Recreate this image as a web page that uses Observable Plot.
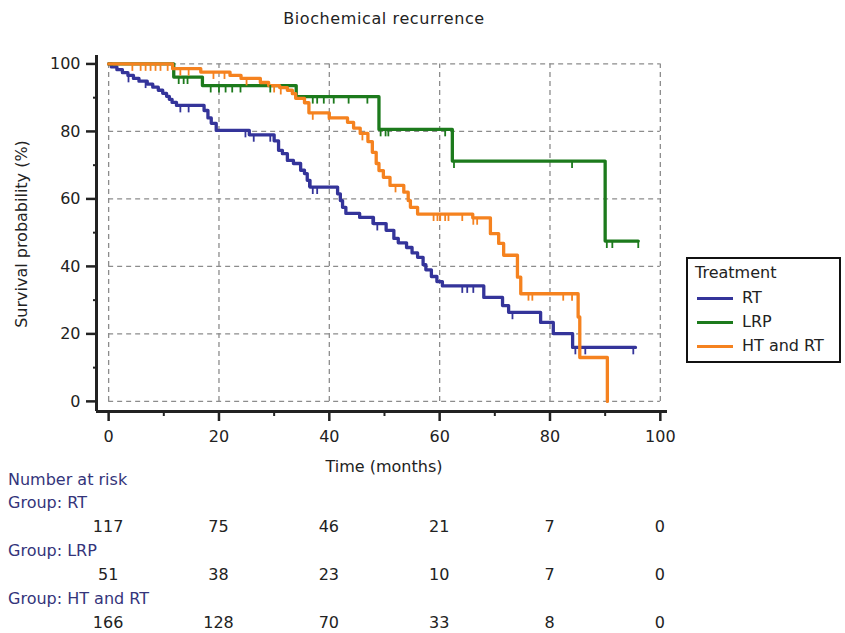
<!DOCTYPE html>
<html><head><meta charset="utf-8">
<script src="https://cdn.jsdelivr.net/npm/d3@7"></script>
<script src="https://cdn.jsdelivr.net/npm/@observablehq/plot@0.6"></script>
<style>
body{margin:0;background:#fff;font-family:"DejaVu Sans",sans-serif;}
#wrap{position:relative;width:845px;height:633px;overflow:hidden;background:#fff;}
.t{position:absolute;white-space:nowrap;font-size:16px;line-height:1;color:#222;}
#legend{position:absolute;left:686px;top:257px;width:155px;height:106px;border:2.5px solid #111;background:#fff;box-sizing:border-box;}
</style></head><body><div id="wrap"></div>
<script>
// ---- data ----
const groups = ["RT", "LRP", "HT and RT"];
const colors = ["#34349a", "#1c7a1c", "#f5821f"];

const rtTime = [0,0.5,1.5,2.5,3.5,4.5,5.5,7,8,9,9.8,10.5,11,11.5,12.3,17.3,18,18.6,19.5,25.5,30,30.8,31.5,32.4,33.5,34.8,35.5,36,36.5,41.5,42,42.4,43,45.5,48,50.3,51.7,52.5,54,55,56,57,57.5,58.5,59.5,60.5,68,71.4,72.5,78.3,80.6,84.1,95.5];
const rtSurv = [100,99.1,98.3,97.4,96.6,95.7,94.9,94,93.1,92.2,91.3,90.4,89.5,88.6,87.7,86.2,84,82.4,80.3,79,77.2,74.4,73.4,71.4,70.5,68.5,67.5,65.5,63.5,61.5,59.5,57.5,55.7,54.5,52.7,50.7,48.3,47,45.6,44,42.7,40.5,39,37,35.5,34.2,30.8,28.4,26.4,23.4,20.1,16,16];
const rtCensor = [3.6,6.7,13,14.5,24.8,26.3,29.3,36.3,37,37.8,47.8,48.7,64.1,65,66.1,73.2,84.6,86.4,95.1];

const lrpTime = [0,11.8,17,34,49,62.3,90,96];
const lrpSurv = [100,96.1,93.6,90.3,80.6,71.2,47.5,47.5];
const lrpCensor = [12.7,13.6,14.3,18.5,20,21.2,22.4,23.9,29.3,37,37.8,39,40.8,43.5,46.9,49.3,50.2,50.7,61,62.6,84,90.3,91.3,96];

const htTime = [0,11.6,16.7,22,24,27.5,29,31,32.4,33.3,33.9,35.5,36.3,40,43.3,44.4,45.6,47,47.8,48.5,49,49.8,51,53.5,54.3,54.7,56,66,69.2,70.7,71.6,74.1,74.7,85.1,85.4,90.4];
const htSurv = [100,98.6,97.6,96.6,95.7,94.5,93.6,93,92.2,91.2,89.8,88.5,85.5,84,82.7,81,79.4,77,73.8,70.5,68.4,66.4,64,62,59.5,57.5,55.5,54.4,49.7,46.8,43.3,36.8,31.9,25,13,0];
const htCensor = [4.3,5.8,6.7,7.6,8.5,9.4,10.7,13,14.5,19,21,25,30,31.2,37,39.9,46,52,58.9,59.6,60.1,61,61.6,64.1,66.1,66.8,76.1,76.8,82.4,84];

const xTicks = [0,20,40,60,80,100];
const xMinor = [10,30,50,70,90];
const yTicks = [0,20,40,60,80,100];
const yMinor = [10,30,50,70,90];

const riskTimes = [0,20,40,60,80,100];
const riskRT = [117,75,46,21,7,0];
const riskLRP = [51,38,23,10,7,0];
const riskHT = [166,128,70,33,8,0];

// ---- build tables ----
const series = [[rtTime, rtSurv, rtCensor],[lrpTime, lrpSurv, lrpCensor],[htTime, htSurv, htCensor]];
const rows = [], cens = [];
series.forEach(([T,S,C], i) => {
  T.forEach((t,j) => rows.push({group: groups[i], time: t, surv: S[j]}));
  C.forEach(c => {
    let k = 0; for (let j = 0; j < T.length; j++) if (T[j] <= c) k = j;
    cens.push({group: groups[i], time: c, surv: S[k]});
  });
});

const xDomain = [-2.2, 101.3];
const yDomain = [-3, 102.5];
const gridStyle = {stroke: "#8c8c8c", strokeDasharray: "5,4", strokeWidth: 1.3};

const chart = Plot.plot({
  width: 845, height: 480,
  marginLeft: 96, marginRight: 178, marginTop: 55, marginBottom: 69,
  style: {fontFamily: "DejaVu Sans", fontSize: "16px", background: "white", color: "#222"},
  x: {domain: xDomain, axis: null},
  y: {domain: yDomain, axis: null},
  color: {domain: groups, range: colors},
  marks: [
    Plot.ruleY(yTicks, {y: d => d, x1: 0, x2: 100, ...gridStyle}),
    Plot.ruleX(xTicks, {x: d => d, y1: 0, y2: 100, ...gridStyle}),
    Plot.line(rows, {x: "time", y: "surv", z: "group", stroke: "group", curve: "step-after", strokeWidth: 3.3}),
    Plot.ruleX(cens, {x: "time", y1: "surv", y2: d => d.surv - 2.2, stroke: "group", strokeWidth: 1.8}),
    Plot.axisX({ticks: xTicks, tickSize: 10, tickPadding: 9, strokeWidth: 2.5, stroke: "#222", fill: "#222", fontSize: 16, label: null}),
    Plot.axisX({ticks: xMinor, tickSize: 5, tickFormat: () => "", strokeWidth: 2, stroke: "#222", label: null}),
    Plot.axisY({ticks: yTicks, tickSize: 10, tickPadding: 6, strokeWidth: 2.5, stroke: "#222", fill: "#222", fontSize: 16, label: null}),
    Plot.axisY({ticks: yMinor, tickSize: 3, tickFormat: () => "", strokeWidth: 2, stroke: "#222", label: null}),
    Plot.ruleX([xDomain[0]], {strokeWidth: 3, stroke: "#222"}),
    Plot.ruleY([yDomain[0]], {strokeWidth: 3, stroke: "#222"})
  ]
});

const wrap = document.getElementById("wrap");
chart.style.position = "absolute"; chart.style.left = "0px"; chart.style.top = "0px";
wrap.appendChild(chart);

const sxObj = chart.scale("x");
const sx = sxObj.apply ? (v => sxObj.apply(v)) : d3.scaleLinear(sxObj.domain, sxObj.range);

function addText(txt, x, y, opts = {}) {
  const d = document.createElement("div");
  d.className = "t";
  d.textContent = txt;
  d.style.left = x + "px"; d.style.top = y + "px";
  const anchor = opts.anchor || "start";
  const tx = anchor === "middle" ? "-50%" : anchor === "end" ? "-100%" : "0";
  d.style.transform = `translate(${tx}, -50%)` + (opts.rotate ? ` rotate(${opts.rotate}deg)` : "");
  if (opts.color) d.style.color = opts.color;
  if (opts.size) d.style.fontSize = opts.size + "px";
  if (opts.ls) d.style.letterSpacing = opts.ls + "px";
  wrap.appendChild(d);
  return d;
}

// title and axis labels
addText("Biochemical recurrence", sx(50), 19, {anchor: "middle", size: 16, ls: 0.6});
addText("Time (months)", sx(50), 467, {anchor: "middle"});
const yl = addText("Survival probability (%)", 22, 234, {anchor: "middle"});
yl.style.transform = "translate(-50%, -50%) rotate(-90deg)";

// legend
const lg = document.createElement("div"); lg.id = "legend"; wrap.appendChild(lg);
addText("Treatment", 695, 273);
groups.forEach((g, i) => {
  const y = 298 + i * 24;
  const sw = document.createElement("div");
  sw.style.cssText = `position:absolute;left:697px;top:${y - 1.5}px;width:36px;height:3px;background:${colors[i]};`;
  wrap.appendChild(sw);
  addText(g, 742, y);
});

// number at risk table
const blueTxt = "#34347a";
addText("Number at risk", 8, 480, {color: blueTxt});
const tables = [riskRT, riskLRP, riskHT];
groups.forEach((g, i) => {
  const y0 = 503 + i * 48;
  addText("Group: " + g, 8, y0, {color: blueTxt});
  riskTimes.forEach((t, j) => addText(String(tables[i][j]), sx(t), y0 + 24, {anchor: "middle"}));
});
</script></body></html>
